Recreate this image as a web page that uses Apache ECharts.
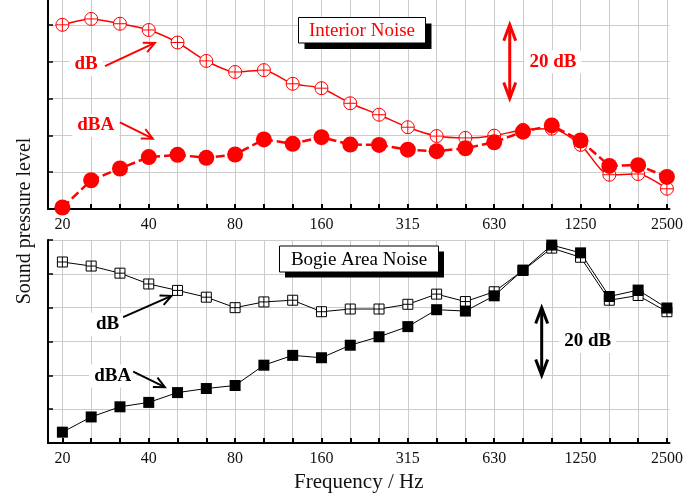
<!DOCTYPE html>
<html><head><meta charset="utf-8">
<script src="https://cdn.jsdelivr.net/npm/echarts@6/dist/echarts.min.js"></script>
<style>html,body{margin:0;padding:0;background:#fff}#c{width:684px;height:498px}</style>
</head><body><div id="c"></div>
<script>
// 1/3-octave band centre frequencies (Hz)
const bands = ['20','25','31.5','40','50','63','80','100','125','160','200','250','315','400','500','630','800','1000','1250','1600','2000','2500'];
// indices of labelled bands
const labelIdx = [0,3,6,9,12,15,18,21];
const tickIdx = bands.map((b,i)=>i);
// Interior noise (relative dB, 10 dB per grid)
const interiorDB  = [50.0,51.6,50.3,48.6,45.2,40.2,37.2,37.7,34.0,32.8,28.7,25.6,22.2,19.8,19.3,19.9,21.5,21.8,17.4,9.3,9.5,5.5];
const interiorDBA = [0.4,7.8,11.0,14.1,14.7,13.9,14.8,18.9,17.7,19.5,17.5,17.4,16.1,15.7,16.5,18.1,21.0,22.7,18.6,11.7,11.9,8.7];
// Bogie area noise
const bogieDB  = [53.5,52.3,50.2,47.0,45.1,43.1,40.0,41.7,42.2,38.8,39.6,39.6,41.0,44.0,41.8,44.7,51.0,57.6,54.9,42.2,43.6,38.8];
const bogieDBA = [3.2,7.7,10.7,12.0,14.9,16.1,17.0,23.0,25.9,25.2,28.9,31.4,34.4,39.4,39.0,43.5,51.1,58.5,56.2,43.3,45.2,39.9];

const FONT = '"Liberation Serif","Times New Roman",serif';
const RED = '#ff0000';
const GRIDC = '#cccccc';
const circlePlus = 'path://M0,10A10,10,0,1,1,20,10A10,10,0,1,1,0,10ZM10,0L10,20M0,10L20,10';
const squarePlus = 'path://M0,0L20,0L20,20L0,20ZM10,0L10,20M0,10L20,10';

const chart = echarts.init(document.getElementById('c'), null, {renderer:'canvas'});
const pts = arr => arr.map((v,i)=>[i,v]);

function mkX(g, name){
  return {
    type:'value', gridIndex:g, min:-0.5, max:21.09,
    name: name || '', nameLocation:'middle', nameGap:29,
    nameTextStyle:{fontFamily:FONT, fontSize:21, color:'#111'},
    axisLine:{show:true, onZero:false, lineStyle:{color:'#000', width:2}},
    axisTick:{show:true, inside:true, length:5, customValues:tickIdx, lineStyle:{color:'#000', width:2}},
    axisLabel:{show:true, customValues:labelIdx, margin:8, fontFamily:FONT, fontSize:16, color:'#111',
      formatter:v=>bands[Math.round(v)]},
    splitLine:{show:true, lineStyle:{color:GRIDC, width:1}}
  };
}
function mkY(g){
  return {
    type:'value', gridIndex:g, min:0, max:60, interval:10,
    axisLine:{show:true, onZero:false, lineStyle:{color:'#000', width:2}},
    axisTick:{show:true, inside:true, length:5, lineStyle:{color:'#000', width:1.5}},
    axisLabel:{show:false},
    splitLine:{show:true, lineStyle:{color:GRIDC, width:1}}
  };
}

chart.setOption({
  animation:false,
  backgroundColor:'#fff',
  grid:[
    {left:48, right:14.5, top:-12, height:221, outerBoundsMode:'none', containLabel:false},
    {left:48, right:14.5, top:240, height:203, outerBoundsMode:'none', containLabel:false}
  ],
  xAxis:[mkX(0), mkX(1,'Frequency / Hz')],
  yAxis:[mkY(0), mkY(1)],
  series:[
    {name:'Interior dB', type:'line', xAxisIndex:0, yAxisIndex:0, data:pts(interiorDB), clip:false,
     smooth:0.25, symbol:circlePlus, symbolSize:13,
     lineStyle:{color:RED, width:1.5}, itemStyle:{color:'#fff', borderColor:RED, borderWidth:1}},
    {name:'Interior dBA', type:'line', xAxisIndex:0, yAxisIndex:0, data:pts(interiorDBA), clip:false,
     symbol:'circle', symbolSize:16,
     lineStyle:{color:RED, width:2.5, type:[9,4]}, itemStyle:{color:RED}},
    {name:'Bogie dB', type:'line', xAxisIndex:1, yAxisIndex:1, data:pts(bogieDB), clip:false,
     symbol:squarePlus, symbolSize:10,
     lineStyle:{color:'#000', width:1}, itemStyle:{color:'#fff', borderColor:'#000', borderWidth:1}},
    {name:'Bogie dBA', type:'line', xAxisIndex:1, yAxisIndex:1, data:pts(bogieDBA), clip:false,
     symbol:'rect', symbolSize:11,
     lineStyle:{color:'#000', width:1}, itemStyle:{color:'#000'}}
  ]
});

// ---- annotations (positioned in data space) ----
const P = (g,x,y)=>chart.convertToPixel({gridIndex:g},[x,y]);
const els = [];
function label(g,x,y,text,color){
  const p = P(g,x,y);
  els.push({type:'text', x:p[0], y:p[1], z:5, style:{text, font:'bold 19px '+FONT, fill:color,
    align:'center', verticalAlign:'middle', textAlign:'center', textVerticalAlign:'middle',
    backgroundColor:'#fff', padding:[2,5]}});
}
function head(tip, from, len, half, color, w){
  const dx = tip[0]-from[0], dy = tip[1]-from[1], L = Math.hypot(dx,dy);
  const ux = dx/L, uy = dy/L;
  const c = Math.cos(half), s = Math.sin(half);
  const w1 = [tip[0]-len*(ux*c - uy*s), tip[1]-len*(uy*c + ux*s)];
  const w2 = [tip[0]-len*(ux*c + uy*s), tip[1]-len*(uy*c - ux*s)];
  els.push({type:'polyline', z:6, shape:{points:[w1,tip,w2]}, style:{stroke:color, lineWidth:w, fill:null, lineJoin:'miter'}});
}
function arrow(g,x0,y0,x1,y1,color,w,len,half,both){
  const a = P(g,x0,y0), b = P(g,x1,y1);
  els.push({type:'line', z:6, shape:{x1:a[0],y1:a[1],x2:b[0],y2:b[1]}, style:{stroke:color, lineWidth:w}});
  head(b,a,len,half,color,w);
  if(both) head(a,b,len,half,color,w);
}
// top panel
label(0,0.82,39.3,'dB',RED);
arrow(0,1.48,38.8,3.21,45.1,RED,2,12,0.45,false);
label(0,1.16,22.7,'dBA',RED);
arrow(0,2.0,23.5,3.14,19.1,RED,2,12,0.45,false);
arrow(0,15.54,30,15.54,50,RED,3,17,0.36,true);
label(0,17.04,40,'20 dB',RED);
// bottom panel
label(1,1.57,35.1,'dB','#000');
arrow(1,2.11,37.2,3.79,43.5,'#000',2,12,0.45,false);
label(1,1.75,19.8,'dBA','#000');
arrow(1,2.46,21.1,3.56,16.5,'#000',2,12,0.45,false);
arrow(1,16.65,20,16.65,40,'#000',3,17,0.36,true);
label(1,18.25,30,'20 dB','#000');

// title boxes with drop shadow
function box(x,y,w,h,off,text,color){
  els.push({type:'rect', z:5, shape:{x:x+off,y:y+off,width:w,height:h}, style:{fill:'#000'}});
  els.push({type:'rect', z:5, shape:{x:x,y:y,width:w,height:h}, style:{fill:'#fff', stroke:'#000', lineWidth:1}});
  els.push({type:'text', z:6, x:x+w/2, y:y+h/2+1, style:{text, font:'19px '+FONT, fill:color,
    align:'center', verticalAlign:'middle', textAlign:'center', textVerticalAlign:'middle'}});
}
box(298.5,17.5,127,25.5,6,'Interior Noise',RED);
box(279.5,246,159,26,5.5,'Bogie Area Noise','#000');

// y-axis title spanning both panels
els.push({type:'text', x:25, y:221, rotation:Math.PI/2, z:5, style:{text:'Sound pressure level', font:'20px '+FONT, fill:'#111',
  align:'center', verticalAlign:'middle', textAlign:'center', textVerticalAlign:'middle'}});

chart.setOption({graphic:{elements:els}});
</script>
</body></html>
